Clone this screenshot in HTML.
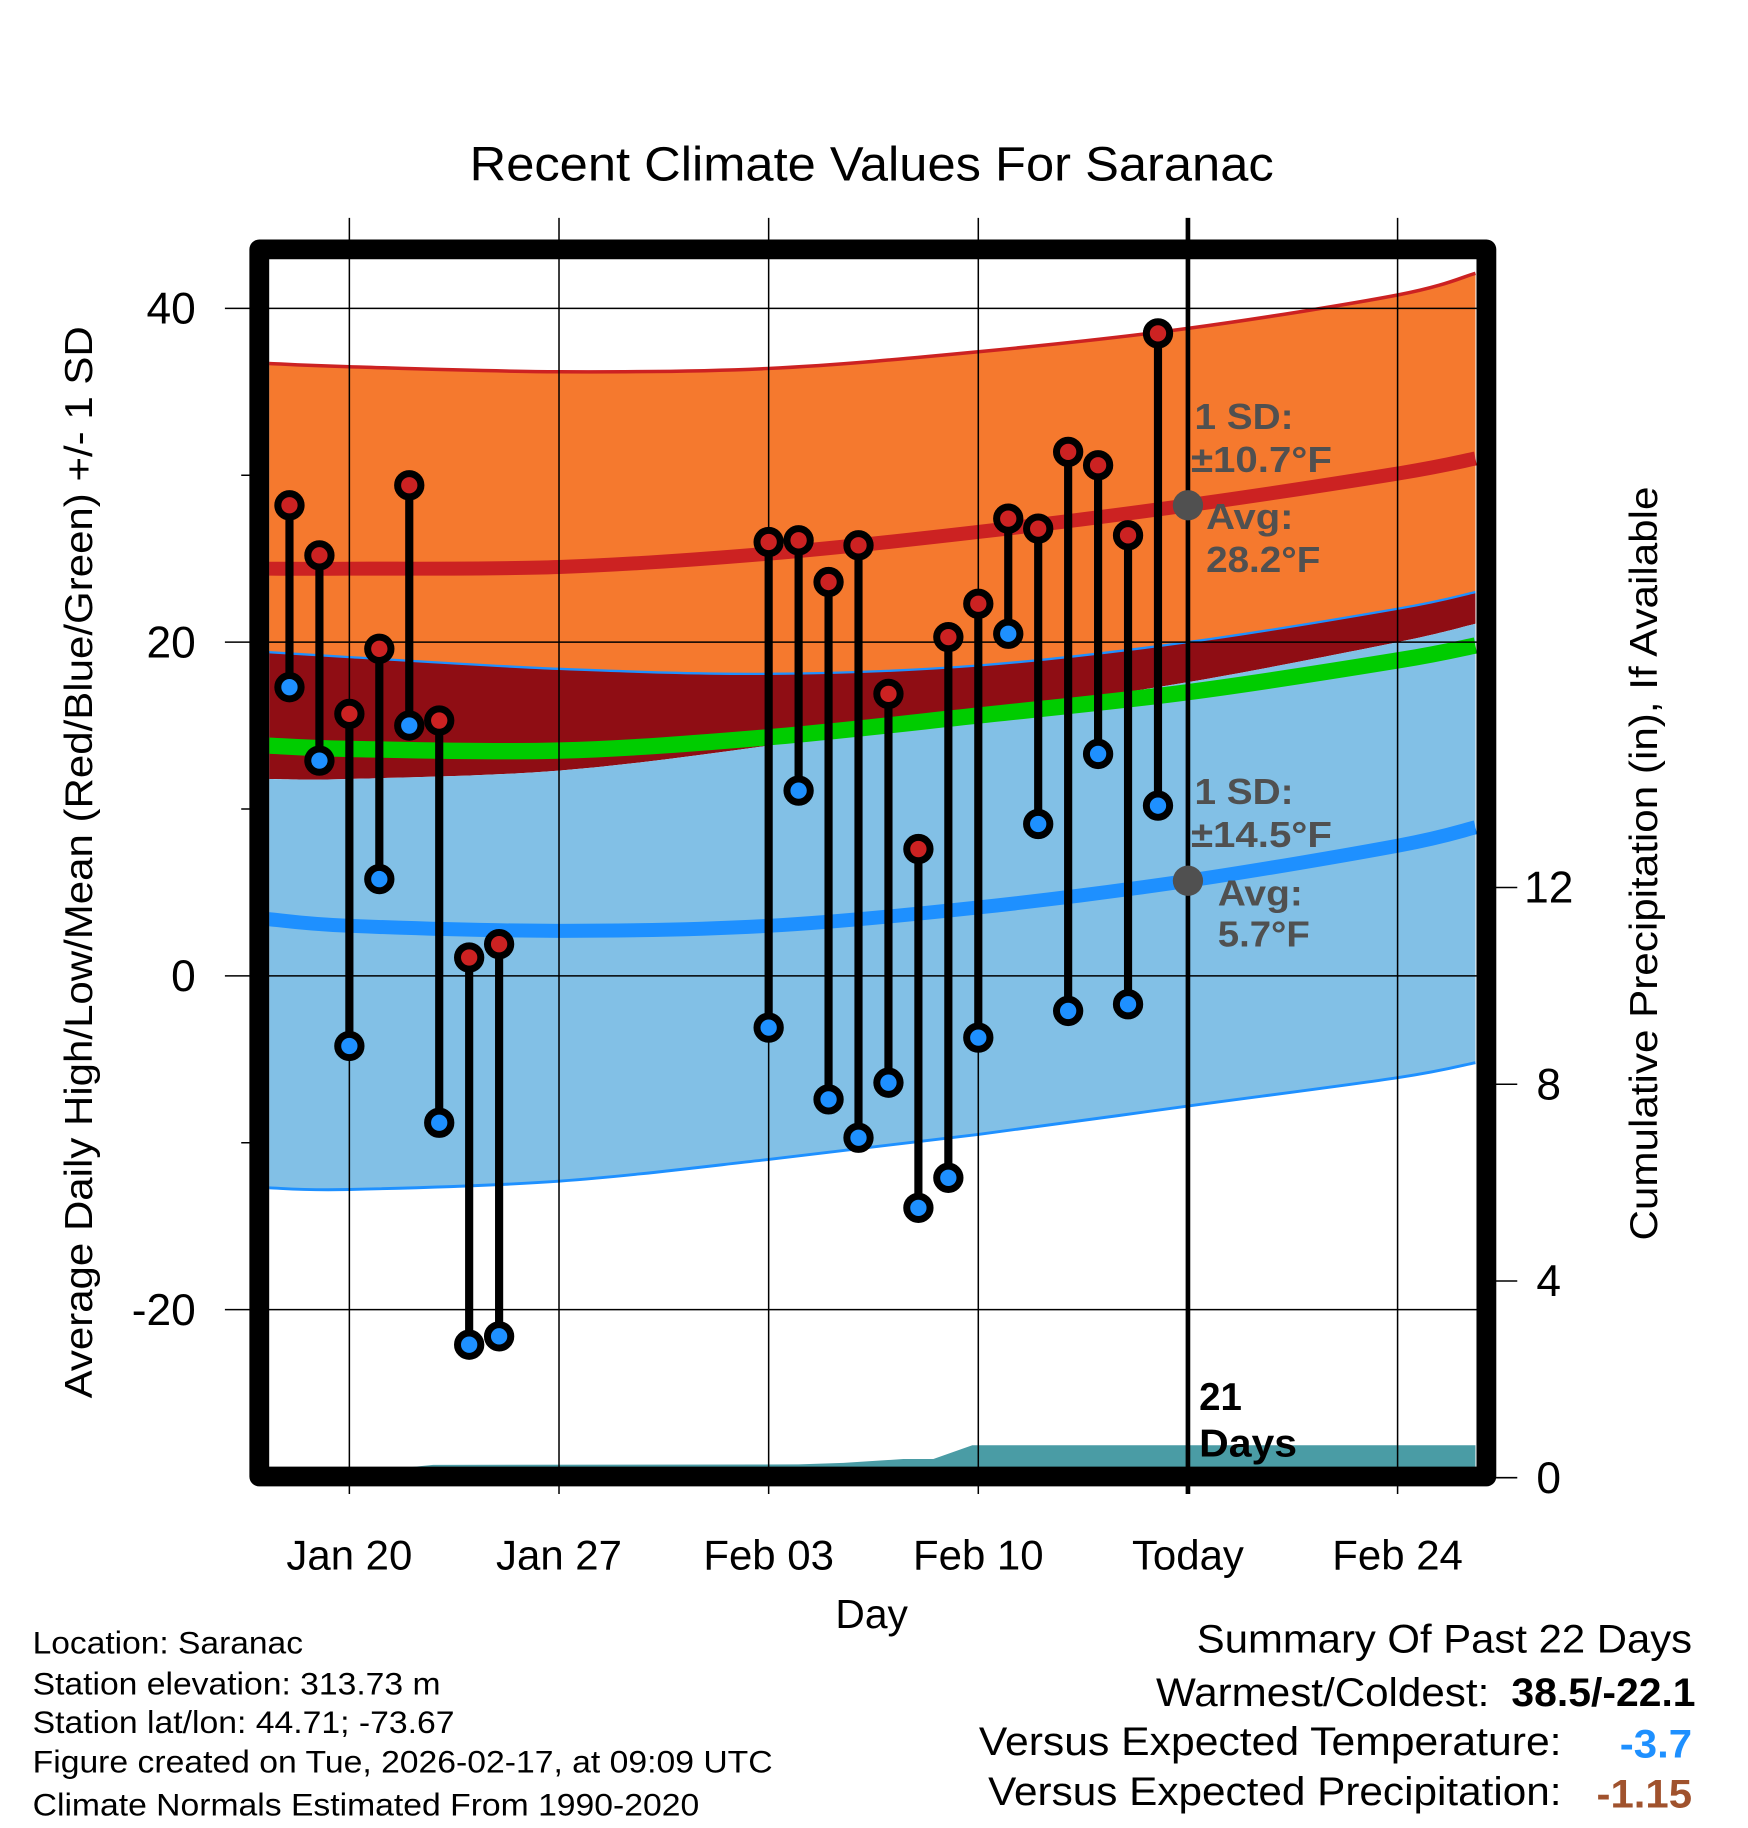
<!DOCTYPE html>
<html><head><meta charset="utf-8"><style>
html,body{margin:0;padding:0;background:#fff;}
svg{display:block;font-family:"Liberation Sans",Arial,sans-serif;}
</style></head><body>
<svg id="chart" width="1748" height="1828" viewBox="0 0 1500 1568.6" preserveAspectRatio="none" xmlns="http://www.w3.org/2000/svg">
<defs><clipPath id="plotclip"><rect x="231" y="222" width="1037" height="1037"/></clipPath></defs>
<text x="748" y="155" text-anchor="middle" font-size="41" textLength="690" lengthAdjust="spacingAndGlyphs">Recent Climate Values For Saranac</text>
<g id="bands" clip-path="url(#plotclip)"></g>
<g id="grid"></g>
<g id="marks"></g>
<g id="axes"></g>
<text x="748" y="1397" text-anchor="middle" font-size="35">Day</text>
<text transform="translate(79,740) rotate(-90)" text-anchor="middle" font-size="33" textLength="920" lengthAdjust="spacingAndGlyphs">Average Daily High/Low/Mean (Red/Blue/Green) +/- 1 SD</text>
<text transform="translate(1422,741) rotate(-90)" text-anchor="middle" font-size="33" textLength="647" lengthAdjust="spacingAndGlyphs">Cumulative Precipitation (in), If Available</text>
<g font-size="27" lengthAdjust="spacingAndGlyphs">
<text x="28" y="1419" textLength="232" lengthAdjust="spacingAndGlyphs">Location: Saranac</text>
<text x="28" y="1454" textLength="350" lengthAdjust="spacingAndGlyphs">Station elevation: 313.73 m</text>
<text x="28" y="1487" textLength="362" lengthAdjust="spacingAndGlyphs">Station lat/lon: 44.71; -73.67</text>
<text x="28" y="1521" textLength="635" lengthAdjust="spacingAndGlyphs">Figure created on Tue, 2026-02-17, at 09:09 UTC</text>
<text x="28" y="1558" textLength="572" lengthAdjust="spacingAndGlyphs">Climate Normals Estimated From 1990-2020</text>
</g>
<g font-size="34">
<text x="1452" y="1418" text-anchor="end" textLength="425" lengthAdjust="spacingAndGlyphs">Summary Of Past 22 Days</text>
<text x="1278" y="1464" text-anchor="end" textLength="286" lengthAdjust="spacingAndGlyphs">Warmest/Coldest:</text>
<text x="1455" y="1464" text-anchor="end" font-weight="bold" textLength="158" lengthAdjust="spacingAndGlyphs">38.5/-22.1</text>
<text x="1340" y="1506" text-anchor="end" textLength="500" lengthAdjust="spacingAndGlyphs">Versus Expected Temperature:</text>
<text x="1452" y="1508" text-anchor="end" font-weight="bold" fill="#1e90ff" textLength="62" lengthAdjust="spacingAndGlyphs">-3.7</text>
<text x="1340" y="1549" text-anchor="end" textLength="492" lengthAdjust="spacingAndGlyphs">Versus Expected Precipitation:</text>
<text x="1452" y="1551" text-anchor="end" font-weight="bold" fill="#a0522d" textLength="82" lengthAdjust="spacingAndGlyphs">-1.15</text>
</g>
</svg>
<script>
// ---- data ----
const normDays = [-2.7, 0, 7, 14, 21, 28, 35, 37.6];
const highTop  = [36.7, 36.5, 36.2, 36.4, 37.4, 38.8, 40.8, 42.1];
const avgHigh  = [24.4, 24.4, 24.5, 25.3, 26.6, 28.2, 30.1, 31.0];
const highBot  = [19.4, 19.1, 18.4, 18.1, 18.6, 20.0, 22.0, 23.0];
const meanT    = [13.8, 13.6, 13.5, 14.3, 15.6, 17.0, 18.9, 19.8];
const lowTop   = [11.8, 11.8, 12.3, 13.8, 15.7, 17.6, 20.0, 21.1];
const avgLow   = [3.4, 3.0, 2.7, 3.0, 4.1, 5.7, 7.8, 8.9];
const lowBot   = [-12.7, -12.8, -12.3, -11.0, -9.5, -7.8, -6.1, -5.2];
const obsDays  = [-2,-1,0,1,2,3,4,5,14,15,16,17,18,19,20,21,22,23,24,25,26,27];
const highs    = [28.2,25.2,15.7,19.6,29.4,15.3,1.1,1.9,26.0,26.1,23.6,25.8,16.9,7.6,20.3,22.3,27.4,26.8,31.4,30.6,26.4,38.5];
const lows     = [17.3,12.9,-4.2,5.8,15.0,-8.8,-22.1,-21.6,-3.1,11.1,-7.4,-9.7,-6.4,-13.9,-12.1,-3.7,20.5,9.1,-2.1,13.3,-1.7,10.2];
const precipDays = [-2.7,1.8,2.8,15,16.5,18.5,19.5,20.8,28,37.6];
const precipVals = [0.2,0.2,0.26,0.27,0.3,0.38,0.38,0.66,0.66,0.66];
const yTicks = [40,20,0,-20];
const yMinor = [30,10,-10];
const y2Ticks = [0,4,8,12];
const xTickDays = [0,7,14,21,28,35];
const xTickLabels = ["Jan 20","Jan 27","Feb 03","Feb 10","Today","Feb 24"];
const todayDay = 28;

// ---- scales ----
const X = d => 299.8 + d*25.7;
const Y = t => 837.4 - t*14.32;
const Y2 = p => 1268 - p*42.2;
const NS = "http://www.w3.org/2000/svg";
function mk(tag, attrs, parent){const e=document.createElementNS(NS,tag);for(const k in attrs)e.setAttribute(k,attrs[k]);parent.appendChild(e);return e;}
function pts(days, vals, yf){return days.map((d,i)=>[X(d), yf(vals[i])]);}
function smooth(p){let s=`M${p[0][0]},${p[0][1]}`;for(let i=0;i<p.length-1;i++){const p0=p[i-1]||p[i],p1=p[i],p2=p[i+1],p3=p[i+2]||p2;
 s+=` C${p1[0]+(p2[0]-p0[0])/6},${p1[1]+(p2[1]-p0[1])/6} ${p2[0]-(p3[0]-p1[0])/6},${p2[1]-(p3[1]-p1[1])/6} ${p2[0]},${p2[1]}`;}return s;}
function area(a,b){const pa=pts(normDays,a,Y),pb=pts(normDays,b,Y).reverse();return smooth(pa)+" L"+smooth(pb).slice(1)+" Z";}

const bands=document.getElementById('bands');
let e;
e=mk('path',{d:area(highTop,highBot),fill:'#f5792e'},bands);


e=mk('path',{d:area(highBot,lowTop),fill:'#8f0d14'},bands);


e=mk('path',{d:area(lowTop,lowBot),fill:'#82c0e6'},bands);


e=mk('path',{d:smooth(pts(normDays,highTop,Y)),fill:'none',stroke:'#cc2222','stroke-width':3},bands);


e=mk('path',{d:smooth(pts(normDays,highBot,Y)),fill:'none',stroke:'#1e90ff','stroke-width':2},bands);


e=mk('path',{d:smooth(pts(normDays,lowBot,Y)),fill:'none',stroke:'#1e90ff','stroke-width':2.5},bands);


e=mk('path',{d:smooth(pts(normDays,meanT,Y)),fill:'none',stroke:'#00cc00','stroke-width':14},bands);


e=mk('path',{d:smooth(pts(normDays,avgHigh,Y)),fill:'none',stroke:'#cc2222','stroke-width':12},bands);


e=mk('path',{d:smooth(pts(normDays,avgLow,Y)),fill:'none',stroke:'#1e90ff','stroke-width':12},bands);


let pp=pts(precipDays,precipVals,Y2);
let pd=`M${pp[0][0]},1268 `+pp.map(p=>`L${p[0]},${p[1]}`).join(' ')+` L${pp[pp.length-1][0]},1268 Z`;
e=mk('path',{d:pd,fill:'#4a9ca5'},bands);



// grid
const grid=document.getElementById('grid');
xTickDays.forEach((d,i)=>{
 e=mk('line',{x1:X(d),x2:X(d),y1:187,y2:1282,stroke:'#000','stroke-width':d===todayDay?4:1.3},grid);
 
 
 e=mk('text',{x:X(d),y:1347,'text-anchor':'middle','font-size':36},grid);
 e.textContent=xTickLabels[i];
 
 
});
yTicks.forEach(t=>{
 e=mk('line',{x1:193,x2:1268,y1:Y(t),y2:Y(t),stroke:'#000','stroke-width':1.3},grid);
 
 
 e=mk('text',{x:168,y:Y(t)+13,'text-anchor':'end','font-size':38},grid);
 e.textContent=t;
 
 
});
yMinor.forEach(t=>{
 e=mk('line',{x1:207,x2:222,y1:Y(t),y2:Y(t),stroke:'#000','stroke-width':1.3},grid);
 
 
});
y2Ticks.forEach(p=>{
 e=mk('line',{x1:1276,x2:1302,y1:Y2(p),y2:Y2(p),stroke:'#000','stroke-width':1.3},grid);
 
 
 e=mk('text',{x:1329,y:Y2(p)+13,'text-anchor':'middle','font-size':38},grid);
 e.textContent=p;
 
 
});

// marks
const marks=document.getElementById('marks');
obsDays.forEach((d,i)=>{
 e=mk('line',{x1:X(d),x2:X(d),y1:Y(highs[i]),y2:Y(lows[i]),stroke:'#000','stroke-width':7},marks);
 
 
});
obsDays.forEach((d,i)=>{
 e=mk('circle',{cx:X(d),cy:Y(highs[i]),r:10,fill:'#cc2222',stroke:'#000','stroke-width':6},marks);
 
 
 e=mk('circle',{cx:X(d),cy:Y(lows[i]),r:10,fill:'#1e90ff',stroke:'#000','stroke-width':6},marks);
 
 
});
// annotations
const ax=document.getElementById('axes');
const todayHigh = avgHigh[5], todayLow = avgLow[5];
e=mk('circle',{cx:X(todayDay),cy:Y(todayHigh),r:13,fill:'#505050'},ax);


e=mk('circle',{cx:X(todayDay),cy:Y(todayLow),r:13,fill:'#505050'},ax);


const ann=[[1025,368,"1 SD:",85],[1022,405,"±10.7°F",121],[1035,454,"Avg:",75],[1035,491,"28.2°F",98],[1025,690,"1 SD:",85],[1022,727,"±14.5°F",121],[1045,777,"Avg:",73],[1045,812,"5.7°F",79]];
ann.forEach(a=>{
 e=mk('text',{x:a[0],y:a[1],'font-size':31,'font-weight':'bold',fill:'#505050',textLength:a[3],lengthAdjust:'spacingAndGlyphs'},ax);
 e.textContent=a[2];
 
 
});
e=mk('text',{x:1029,y:1210,'font-size':33,'font-weight':'bold'},ax);
e.textContent="21";


e=mk('text',{x:1029,y:1250,'font-size':33,'font-weight':'bold',textLength:84,lengthAdjust:'spacingAndGlyphs'},ax);
e.textContent="Days";


// frame
e=mk('rect',{x:222.5,y:214,width:1053,height:1053,fill:'none',stroke:'#000','stroke-width':17,'stroke-linejoin':'round'},ax);


</script>
</body></html>
